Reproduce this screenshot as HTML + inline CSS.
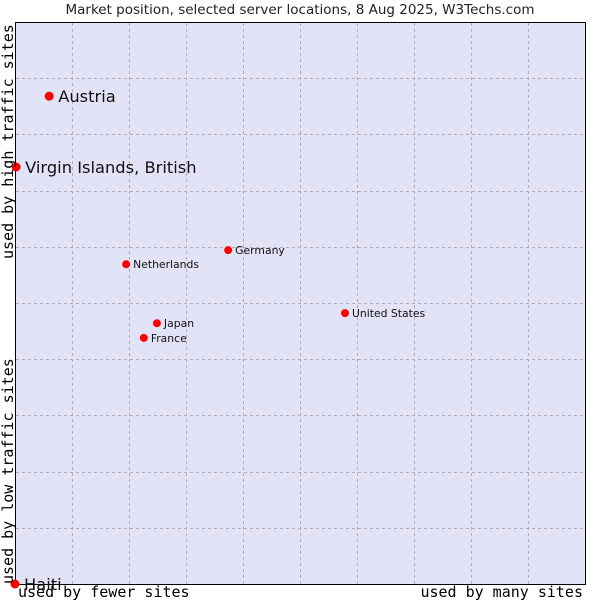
<!DOCTYPE html>
<html><head><meta charset="utf-8"><style>
html,body{margin:0;padding:0;background:#fff;width:600px;height:600px;overflow:hidden}
</style></head><body>
<svg id="chart" width="600" height="600" xmlns="http://www.w3.org/2000/svg" font-family="DejaVu Sans, Liberation Sans, sans-serif">
<text x="300" y="14" font-size="13.5" text-anchor="middle" fill="#222">Market position, selected server locations, 8 Aug 2025, W3Techs.com</text>
<rect x="15.5" y="22.5" width="570" height="562" fill="#e3e3f7" stroke="#000" stroke-width="1"/>
<g id="grid"></g>
<g id="points"></g>
<text transform="translate(13,259) rotate(-90)" font-family="DejaVu Sans Mono, Liberation Mono, monospace" font-size="15" fill="#000">used by high traffic sites</text>
<text transform="translate(13,584) rotate(-90)" font-family="DejaVu Sans Mono, Liberation Mono, monospace" font-size="15" fill="#000">used by low traffic sites</text>
<text x="18" y="597" font-family="DejaVu Sans Mono, Liberation Mono, monospace" font-size="15" fill="#000">used by fewer sites</text>
<text x="583" y="597" text-anchor="end" font-family="DejaVu Sans Mono, Liberation Mono, monospace" font-size="15" fill="#000">used by many sites</text>
</svg>
<script>
const names = ["Austria","Virgin Islands, British","Netherlands","Germany","United States","Japan","France","Haiti"];
const xVals = [6.0,0.2,19.5,37.4,57.9,24.9,22.6,0];
const yVals = [86.8,74.2,56.9,59.4,48.2,46.4,43.8,0];
const bigLabel = [true,true,false,false,false,false,false,true];
const NS="http://www.w3.org/2000/svg";
const X0=15,X1=585,Y0=584,Y1=22;
const sx=v=>X0+v/100*(X1-X0);
const sy=v=>Y0-v/100*(Y0-Y1);
const grid=document.getElementById('grid');
for(let i=1;i<10;i++){
  const l=document.createElementNS(NS,'line');
  
  
  const x=Math.round(sx(i*10))+0.5;
  l.setAttribute('x1',x);l.setAttribute('x2',x);l.setAttribute('y1',Y1+1);l.setAttribute('y2',Y0);
  l.setAttribute('stroke','#b0b0b0');l.setAttribute('stroke-dasharray','3,3');
  grid.appendChild(l);
  const h=document.createElementNS(NS,'line');
  
  
  const y=Math.round(sy(i*10))+0.5;
  h.setAttribute('x1',X0+1);h.setAttribute('x2',X1);h.setAttribute('y1',y);h.setAttribute('y2',y);
  h.setAttribute('stroke','#b0b0b0');h.setAttribute('stroke-dasharray','3,3');
  grid.appendChild(h);
}
const pts=document.getElementById('points');
names.forEach((n,i)=>{
  const x=sx(xVals[i]),y=sy(yVals[i]);
  const d=document.createElementNS(NS,'circle');
  
  
  d.setAttribute('cx',x);d.setAttribute('cy',y);
  d.setAttribute('r',bigLabel[i]?4.5:4);
  d.setAttribute('fill','#ff0000');
  pts.appendChild(d);
  const t=document.createElementNS(NS,'text');
  
  
  t.setAttribute('x',x+(bigLabel[i]?9:7));
  t.setAttribute('y',y+(bigLabel[i]?6:4));
  t.setAttribute('font-size',bigLabel[i]?16.3:10.8);
  t.setAttribute('fill','#111');
  t.textContent=n;
  pts.appendChild(t);
});
</script>
</body></html>
